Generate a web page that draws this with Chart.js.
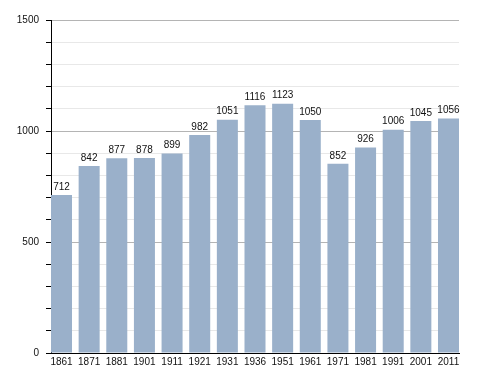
<!DOCTYPE html>
<html>
<head>
<meta charset="utf-8">
<script src="https://cdn.jsdelivr.net/npm/chart.js@4"></script>
<style>
html,body{margin:0;padding:0;background:#fff;}
#wrap{width:488px;height:373px;}
</style>
</head>
<body>
<div id="wrap"><canvas id="c" width="488" height="373"></canvas></div>
<script>
const years = ["1861","1871","1881","1901","1911","1921","1931","1936","1951","1961","1971","1981","1991","2001","2011"];
const population = [712,842,877,878,899,982,1051,1116,1123,1050,852,926,1006,1045,1056];
const yTickLabels = [0,500,1000,1500];

const FONT = '"Liberation Sans", Arial, sans-serif';

const labelPlugin = {
  id: 'valueLabels',
  afterDatasetsDraw(chart) {
    const ctx = chart.ctx;
    const meta = chart.getDatasetMeta(0);
    ctx.save();
    ctx.font = '10px ' + FONT;
    ctx.fillStyle = '#111';
    ctx.textAlign = 'center';
    ctx.textBaseline = 'bottom';
    meta.data.forEach((bar, i) => {
      ctx.fillText(String(population[i]), bar.x, bar.y - 3);
    });
    ctx.restore();
  }
};

new Chart(document.getElementById('c'), {
  type: 'bar',
  data: {
    datasets: [{
      data: population.map((v, i) => ({ x: i, y: v })),
      backgroundColor: '#9ab0ca',
      borderWidth: 0,
      barPercentage: 0.76,
      categoryPercentage: 1.0
    }]
  },
  options: {
    responsive: false,
    animation: false,
    devicePixelRatio: 1,
    layout: { padding: { left: 0, top: 20, right: 29, bottom: 0 } },
    plugins: { legend: { display: false }, tooltip: { enabled: false } },
    scales: {
      x: {
        type: 'linear',
        min: -0.38,
        max: 14.38,
        offset: false,
        grid: { display: false, drawTicks: false },
        border: { display: true, color: '#000', width: 1 },
        afterBuildTicks(s) { s.ticks = years.map((_, i) => ({ value: i })); },
        ticks: {
          color: '#111',
          font: { family: FONT, size: 10 },
          padding: 3,
          maxRotation: 0,
          autoSkip: false,
          callback: (v) => years[v] !== undefined ? years[v] : ''
        },
        afterFit(s) { s.height = 20; }
      },
      y: {
        min: 0,
        max: 1500,
        border: { display: true, color: '#000', width: 1 },
        grid: {
          color: (c) => (c.tick && yTickLabels.includes(c.tick.value)) ? '#b4b4b4' : '#e8e8e8',
          tickColor: '#000',
          tickLength: 5,
          lineWidth: 1
        },
        ticks: {
          stepSize: 100,
          color: '#111',
          font: { family: FONT, size: 10 },
          padding: 7,
          callback: (v) => yTickLabels.includes(v) ? String(v) : ''
        },
        afterFit(s) { s.width = 51; }
      }
    }
  },
  plugins: [labelPlugin]
});
</script>
</body>
</html>
